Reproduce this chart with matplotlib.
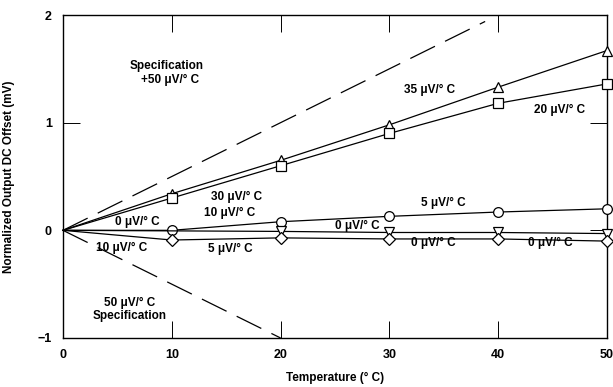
import matplotlib
matplotlib.use("Agg")
import matplotlib.pyplot as plt
import numpy as np

plt.rcParams['font.family'] = ['Liberation Sans', 'DejaVu Sans']
plt.rcParams['font.weight'] = 'bold'

temps = [0, 10, 20, 30, 40, 50]
tri_up = [0, 0.34, 0.65, 0.98, 1.33, 1.67]
square = [0, 0.30, 0.60, 0.90, 1.18, 1.36]
circle = [0, 0.00, 0.08, 0.13, 0.17, 0.20]
tri_dn_t = [0, 20, 30, 40, 50]
tri_dn = [0, -0.01, -0.02, -0.02, -0.03]
diamond = [0, -0.09, -0.07, -0.08, -0.08, -0.10]
spec_up_t = [0, 38.8]
spec_up = [0, 1.94]
spec_dn_t = [0, 20]
spec_dn = [0, -1.0]

labels = [
    ("Specification", 167, 66), ("+50 μV/° C", 170, 80),
    ("35 μV/° C", 430, 90), ("20 μV/° C", 560, 110),
    ("30 μV/° C", 237, 197), ("10 μV/° C", 230, 213),
    ("0 μV/° C", 137, 222), ("10 μV/° C", 122, 248),
    ("5 μV/° C", 230, 249), ("50 μV/° C", 130, 303),
    ("Specification", 130, 316), ("5 μV/° C", 443, 203),
    ("0 μV/° C", 357, 226), ("0 μV/° C", 433, 243),
    ("0 μV/° C", 550, 243),
]

W, H = 613, 387
fig = plt.figure(figsize=(W/100, H/100), dpi=100)
L, R, T, B = 63, 607, 15, 338
ax = fig.add_axes([L/W, 1-B/H, (R-L)/W, (B-T)/H])
ax.set_xlim(0, 50)
ax.set_ylim(-1, 2)

lw = 0.9
mk = dict(markerfacecolor='white', markeredgecolor='black', markeredgewidth=0.9,
          markersize=7, clip_on=False, zorder=3)
ax.plot(temps, tri_up, '-', color='black', lw=lw, marker='^', markevery=range(1, 6), **mk)
ax.plot(temps, square, '-', color='black', lw=lw, marker='s', markevery=range(1, 6), **mk)
ax.plot(temps, circle, '-', color='black', lw=lw, marker='o', markevery=range(1, 6), **mk)
ax.plot(tri_dn_t, tri_dn, '-', color='black', lw=lw, marker='v', markevery=range(1, 5), **mk)
ax.plot(temps, diamond, '-', color='black', lw=lw, marker='D', markevery=range(1, 6),
        **{**mk, 'markersize': 6})
ax.plot(spec_up_t, spec_up, color='black', lw=lw, dashes=(22, 9))
ax.plot(spec_dn_t, spec_dn, color='black', lw=lw, dashes=(22, 9))

for s, px, py in labels:
    x = (px - L) / (R - L) * 50
    y = 2 - (py - T) / (B - T) * 3
    ax.text(x, y, s, ha='center', va='center', fontsize=8.5, fontweight='bold')

ax.set_xticks([0, 10, 20, 30, 40, 50])
ax.set_yticks([-1, 0, 1, 2])
ax.set_yticklabels(['−1', '0', '1', '2'])
ax.tick_params(direction='in', length=12, width=0.7, top=True, right=True,
               labelsize=9, pad=8)
for lab in ax.get_xticklabels() + ax.get_yticklabels():
    lab.set_fontweight('bold')
for sp in ax.spines.values():
    sp.set_linewidth(1.0)

ax.set_xlabel("Temperature (° C)", fontsize=8.5, fontweight='bold', labelpad=8)
ax.set_ylabel("Normalized Output DC Offset (mV)", fontsize=8.5, fontweight='bold', labelpad=16)

fig.savefig("out.png", dpi=100)
